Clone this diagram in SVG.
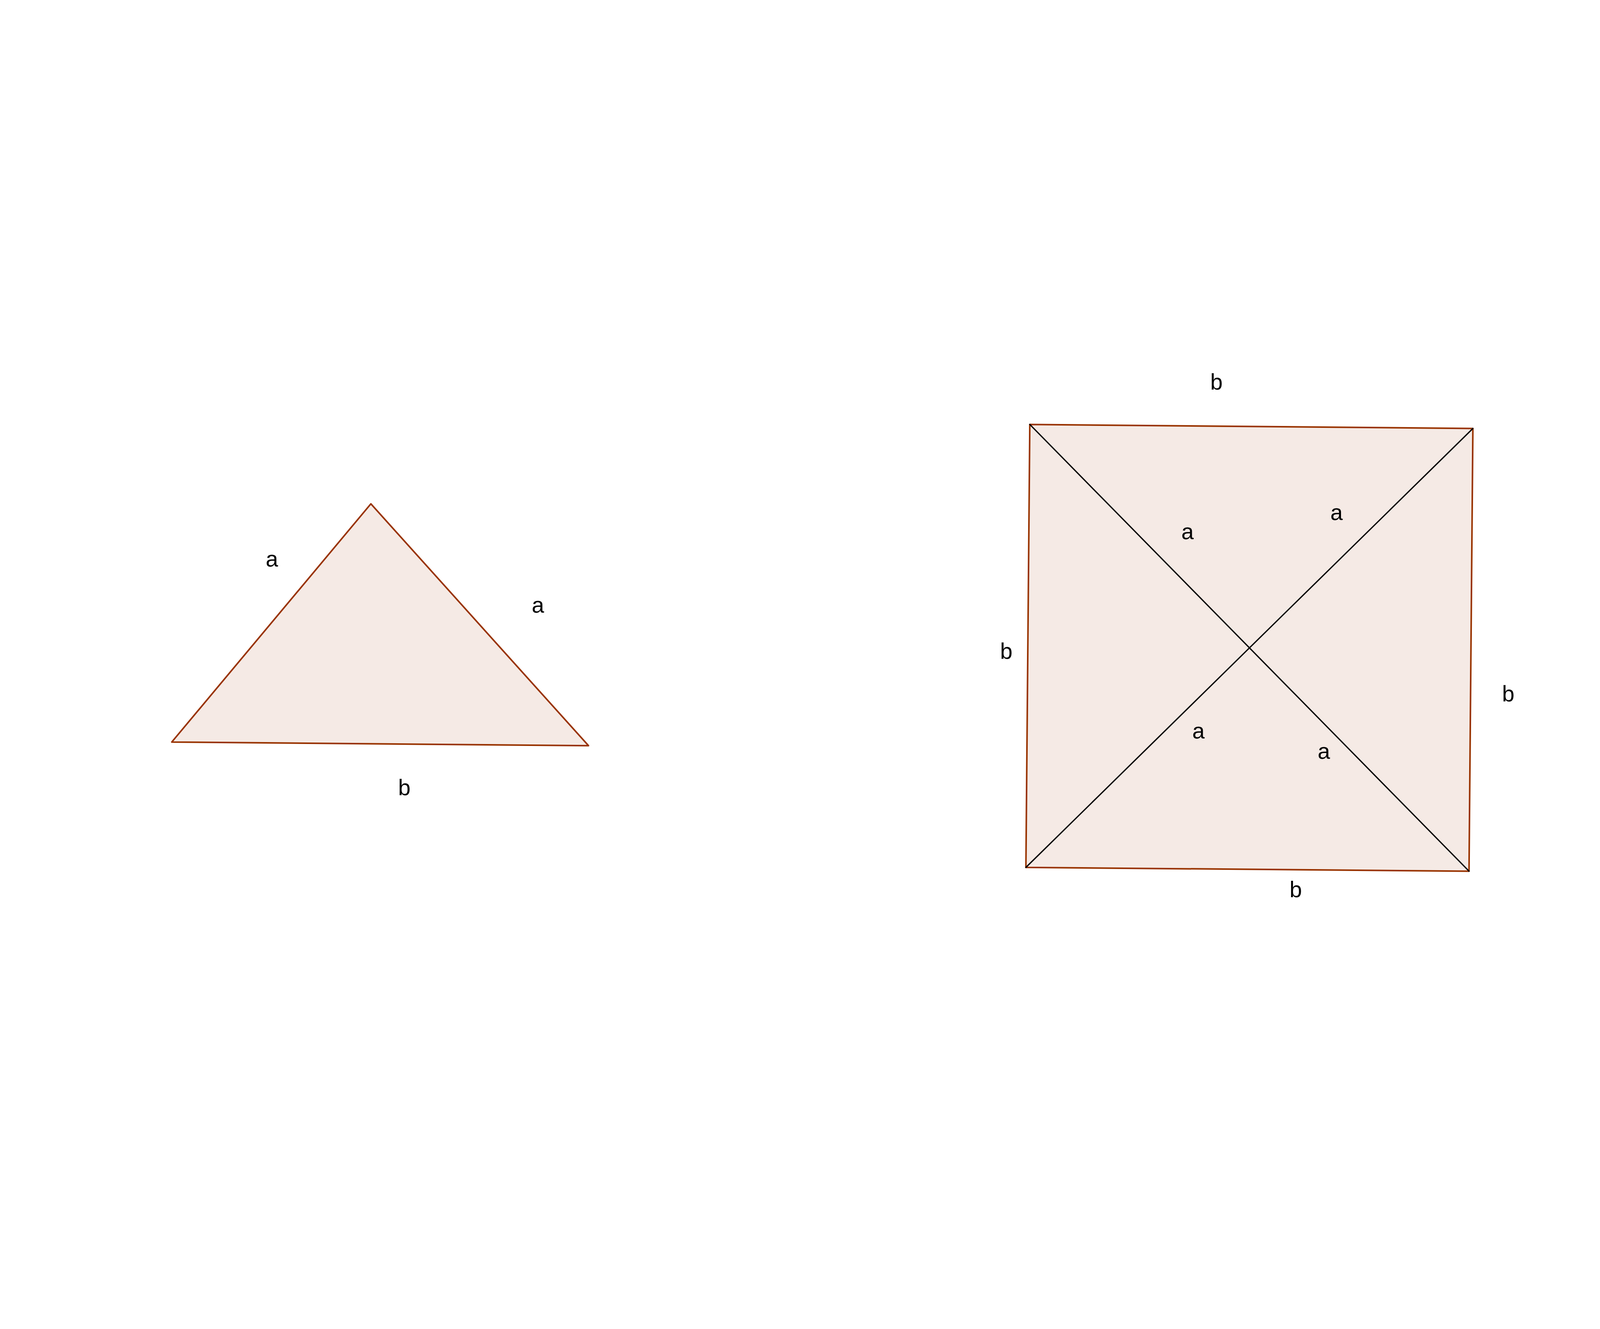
<svg xmlns="http://www.w3.org/2000/svg" width="7431" height="3401" viewBox="0 0 7431 3401">
<style>
.poly{fill:#993300;fill-opacity:0.1;stroke:#993300;stroke-width:4;stroke-linejoin:round}
.seg{stroke:#000;stroke-width:3.3;stroke-linecap:round;fill:none}
.lbl{font-family:"Liberation Sans",Arial,sans-serif;font-size:57px;fill:#000;text-anchor:middle}
</style>
<rect x="0" y="0" width="7431" height="3401" fill="#fff"/>
<g id="triangle">
<polygon class="poly" points="949.5,1289.3 1506.5,1908.2 439.7,1899"/>
<text class="lbl" x="696" y="1450">a</text>
<text class="lbl" x="1377" y="1568">a</text>
<text class="lbl" x="1035" y="2035">b</text>
</g>
<g id="square1">
<polygon class="poly" points="2636.3,1086.2 3770.6,1096.5 3760.7,2229.4 2626.3,2219.8"/>
<text class="lbl" x="3114" y="997">b</text>
<text class="lbl" x="3861" y="1795">b</text>
<text class="lbl" x="3317" y="2296">b</text>
<text class="lbl" x="2576" y="1686">b</text>
<text class="lbl" x="3040" y="1380">a</text>
<text class="lbl" x="3421.5" y="1331">a</text>
<text class="lbl" x="3068" y="1890">a</text>
<text class="lbl" x="3389" y="1942">a</text>
</g>
<g id="square2">
<polygon class="poly" points="4988.7,1095.4 6160.4,1095.4 6160.4,2267.7 4988.7,2267.7"/>
<text class="lbl" x="5514" y="1006">b</text>
<text class="lbl" x="6246" y="1691">b</text>
<text class="lbl" x="5623" y="2395">b</text>
<text class="lbl" x="4923.6" y="1750">b</text>
<text class="lbl" x="5369" y="1553">a</text>
<text class="lbl" x="5840.6" y="1529">a</text>
<text class="lbl" x="5364.7" y="1980">a</text>
<text class="lbl" x="5785" y="1936">a</text>
</g>
<g id="connectors">
<line class="seg" x1="2636.3" y1="1086.2" x2="3760.7" y2="2229.4"/>
<line class="seg" x1="3770.6" y1="1096.5" x2="2626.3" y2="2219.8"/>
<line class="seg" x1="4988.7" y1="1095.4" x2="6160.4" y2="2267.7"/>
<line class="seg" x1="6160.4" y1="1095.4" x2="4988.7" y2="2267.7"/>
</g>
</svg>
